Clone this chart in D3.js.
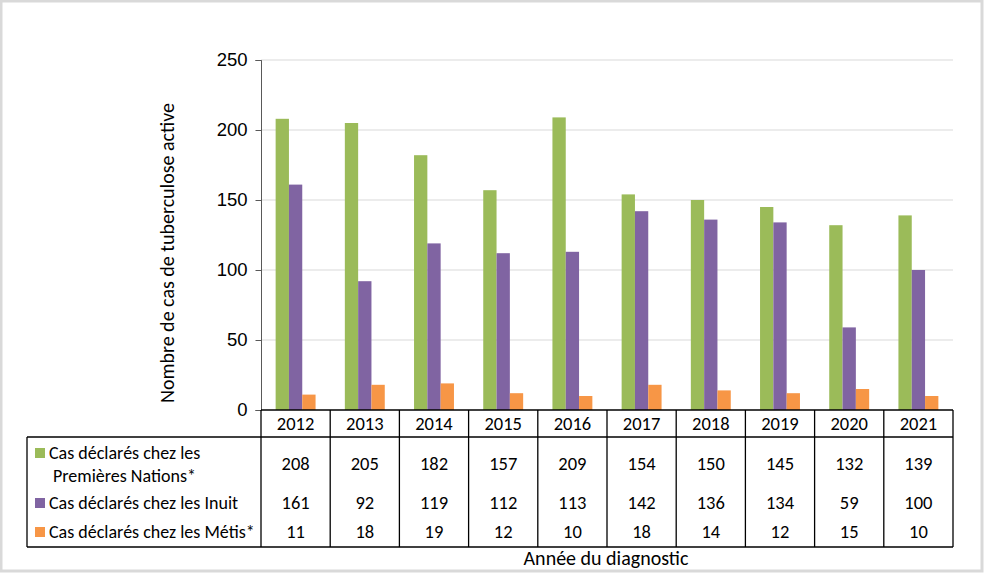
<!DOCTYPE html>
<html>
<head>
<meta charset="utf-8">
<script src="https://cdn.jsdelivr.net/npm/d3@7"></script>
<style>
  body { margin: 0; background: #fff; }
  svg { display: block; font-family: Carlito, Lato, "Open Sans", sans-serif; }
</style>
</head>
<body>
<svg width="984" height="573"></svg>
<script>
// données
var years = ["2012", "2013", "2014", "2015", "2016", "2017", "2018", "2019", "2020", "2021"];
var premieresNations = [208, 205, 182, 157, 209, 154, 150, 145, 132, 139];
var inuit = [161, 92, 119, 112, 113, 142, 136, 134, 59, 100];
var metis = [11, 18, 19, 12, 10, 18, 14, 12, 15, 10];
var seriesNames = ["Cas déclarés chez les Premières Nations*", "Cas déclarés chez les Inuit", "Cas déclarés chez les Métis*"];
var colors = ["#9BBB59", "#8064A2", "#F79646"];
var yTicks = [0, 50, 100, 150, 200, 250];

var series = [premieresNations, inuit, metis];

var svg = d3.select("svg");

// cadre gris autour de l'image
svg.append("rect")
  .attr("x", 1).attr("y", 1)
  .attr("width", 981).attr("height", 570)
  .style("fill", "none")
  .style("stroke", "#d9d9d9")
  .style("stroke-width", 3);

var x = d3.scaleBand().domain(years).range([261, 953]).padding(0);
var x1 = d3.scaleBand().domain([0, 1, 2]).range([0, x.bandwidth()]).paddingInner(0).paddingOuter(1.1);
var y = d3.scaleLinear().domain([0, 250]).range([410, 60]);

// quadrillage
svg.append("g").selectAll("line")
  .data(yTicks.slice(1))
  .join("line")
  .attr("x1", 261).attr("x2", 953)
  .attr("y1", function(d) { return y(d); })
  .attr("y2", function(d) { return y(d); })
  .style("stroke", "#d9d9d9")
  .style("stroke-width", 1);

// barres
var groups = svg.append("g").selectAll("g")
  .data(series)
  .join("g")
  .style("fill", function(d, i) { return colors[i]; });

groups.each(function(vals, si) {
  d3.select(this).selectAll("rect")
    .data(vals)
    .join("rect")
    .attr("x", function(d, i) { return x(years[i]) + x1(si); })
    .attr("width", x1.bandwidth())
    .attr("y", function(d) { return y(d); })
    .attr("height", function(d) { return y(0) - y(d); });
});

// axe y
var yAxis = d3.axisLeft(y).tickValues(yTicks).tickSize(6).tickPadding(8);
var gy = svg.append("g").attr("transform", "translate(261.5,0)").call(yAxis);
gy.select(".domain").style("stroke", "#595959").attr("d", "M-6,60.5H0V410.5H-6");
gy.selectAll(".tick line").style("stroke", "#595959");
gy.selectAll(".tick text").style("font-size", "18.5px").style("fill", "#000").style("font-family", null);

svg.append("text")
  .attr("transform", "translate(174,253) rotate(-90)")
  .attr("text-anchor", "middle")
  .style("font-size", "20px")
  .text("Nombre de cas de tuberculose active");

// tableau de données
var tableTop = 410, headerBottom = 437, tableBottom = 547, tableLeft = 27;
var rowCenters = [464, 503, 532];
var lineColor = "#000";
var table = svg.append("g").style("stroke", lineColor).style("stroke-width", 1.3).style("fill", "none");

// lignes horizontales
table.append("line").attr("x1", 261).attr("x2", 953).attr("y1", tableTop).attr("y2", tableTop);
table.append("line").attr("x1", tableLeft).attr("x2", 953).attr("y1", headerBottom).attr("y2", headerBottom);
table.append("line").attr("x1", tableLeft).attr("x2", 953).attr("y1", tableBottom).attr("y2", tableBottom);
table.append("line").attr("x1", tableLeft).attr("x2", tableLeft).attr("y1", headerBottom).attr("y2", tableBottom);

// lignes verticales
table.selectAll(".vl")
  .data(years.concat(["end"]))
  .join("line")
  .attr("x1", function(d) { return d === "end" ? 953 : x(d); })
  .attr("x2", function(d) { return d === "end" ? 953 : x(d); })
  .attr("y1", tableTop).attr("y2", tableBottom);

// années
svg.append("g").selectAll("text")
  .data(years)
  .join("text")
  .attr("x", function(d) { return x(d) + x.bandwidth() / 2; })
  .attr("y", 424)
  .attr("dy", "0.35em")
  .attr("text-anchor", "middle")
  .style("font-size", "18.5px")
  .text(function(d) { return d; });

// valeurs
series.forEach(function(vals, si) {
  svg.append("g").selectAll("text")
    .data(vals)
    .join("text")
    .attr("x", function(d, i) { return x(years[i]) + x.bandwidth() / 2; })
    .attr("y", rowCenters[si])
    .attr("dy", "0.35em")
    .attr("text-anchor", "middle")
    .style("font-size", "18.5px")
    .text(function(d) { return d; });
});

// légende dans le tableau
var legendY = [453, 503, 532];
svg.append("g").selectAll("rect")
  .data(colors)
  .join("rect")
  .attr("x", 35).attr("y", function(d, i) { return legendY[i] - 5; })
  .attr("width", 10).attr("height", 10)
  .style("fill", function(d) { return d; });

var legendText = svg.append("g").style("font-size", "18px");
legendText.append("text").attr("x", 49).attr("y", 453).attr("dy", "0.35em").text("Cas déclarés chez les");
legendText.append("text").attr("x", 53).attr("y", 476).attr("dy", "0.35em").text("Premières Nations*");
legendText.append("text").attr("x", 49).attr("y", 503).attr("dy", "0.35em").text(seriesNames[1]);
legendText.append("text").attr("x", 49).attr("y", 532).attr("dy", "0.35em").text(seriesNames[2]);

svg.append("text")
  .attr("x", 606).attr("y", 558)
  .attr("dy", "0.35em")
  .attr("text-anchor", "middle")
  .style("font-size", "20px")
  .text("Année du diagnostic");
</script>
</body>
</html>
